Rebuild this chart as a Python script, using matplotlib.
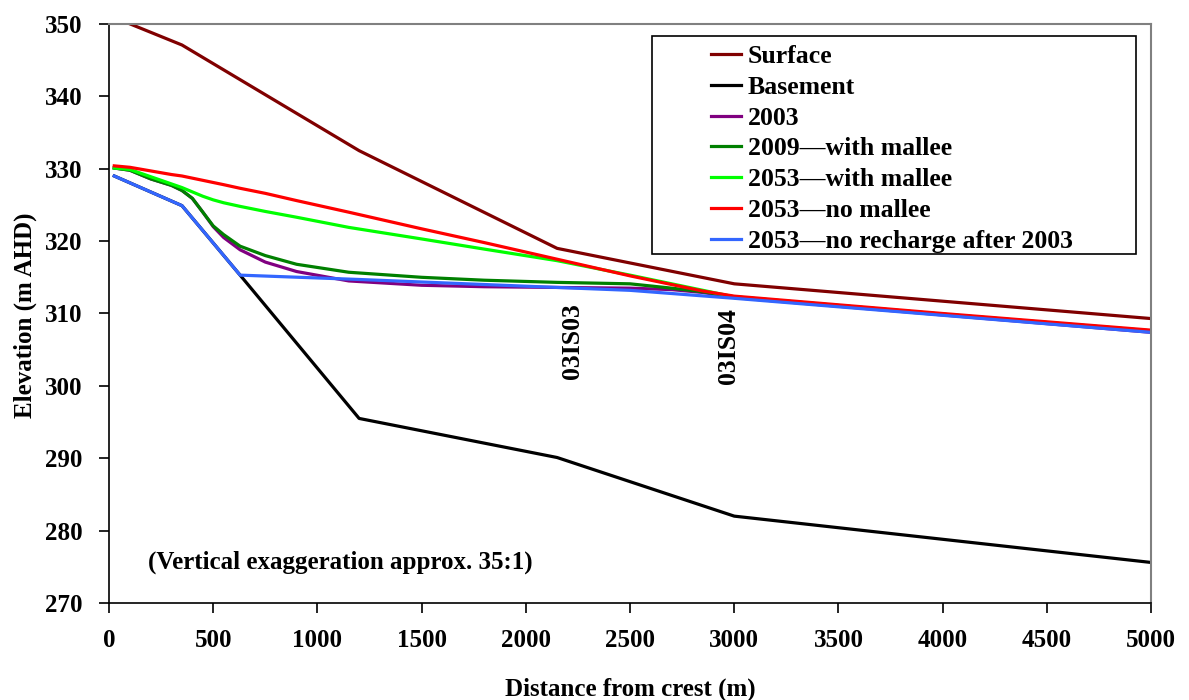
import matplotlib.pyplot as plt
from matplotlib.patches import Rectangle

plt.rcParams['font.family'] = ['Liberation Serif', 'DejaVu Serif']
plt.rcParams['font.weight'] = 'bold'

# Surface and basement profiles (m AHD)
surface_x = [25, 350, 1200, 2150, 3000, 5000]
surface_y = [350.9, 347.1, 332.5, 319.0, 314.1, 309.3]

basement_x = [25, 350, 629, 1200, 2150, 3000, 5000]
basement_y = [329.0, 324.9, 315.3, 295.5, 290.1, 282.0, 275.6]

# Water table profiles
wt_x = [25, 100, 200, 300, 350, 400, 450, 500, 550, 629, 750, 900,
        1150, 1500, 1800, 2150, 2500, 2700, 2850, 3000, 4000, 5000]
wt_2003 = [330.1, 329.8, 328.6, 327.7, 327.0, 325.9, 324.0, 322.0, 320.5, 318.8,
           317.1, 315.8, 314.5, 313.9, 313.7, 313.6, 313.5, 313.3, 312.9, 312.2,
           309.8, 307.4]
wt_2009 = [330.1, 329.8, 328.6, 327.7, 327.0, 325.9, 324.0, 322.1, 320.9, 319.3,
           318.0, 316.8, 315.7, 315.0, 314.6, 314.3, 314.1, 313.5, 313.0, 312.3,
           309.9, 307.6]
wt_2053_mallee = [330.1, 329.9, 328.9, 327.9, 327.4, 326.8, 326.2, 325.7, 325.3,
                  324.8, 324.1, 323.3, 321.9, 320.3, 318.9, 317.3, 315.3, 314.1,
                  313.2, 312.3, 309.9, 307.6]
wt_2053_no_mallee = [330.4, 330.2, 329.7, 329.2, 329.0, 328.7, 328.4, 328.1, 327.8,
                     327.3, 326.6, 325.6, 324.0, 321.7, 319.8, 317.5, 315.2, 314.0,
                     313.1, 312.4, 310.0, 307.7]

no_recharge_x = [25, 350, 629, 1200, 2150, 2500, 3000, 5000]
no_recharge_y = [329.0, 324.9, 315.3, 314.7, 313.6, 313.2, 312.1, 307.4]

bore_names = ['03IS03', '03IS04']
bore_x = [2222, 2970]
bore_top = [311.4, 310.8]

fig = plt.figure(figsize=(11.89, 7.0), dpi=100)
ax = fig.add_axes([0.0917, 0.1386, 0.8764, 0.8271])

lw = 2.3
ax.plot(surface_x, surface_y, color='#800000', lw=lw, label='Surface')
ax.plot(basement_x, basement_y, color='black', lw=lw, label='Basement')
ax.plot(wt_x, wt_2003, color='#800080', lw=lw, label='2003')
ax.plot(wt_x, wt_2009, color='#008000', lw=lw, label='2009\u2014with mallee')
ax.plot(wt_x, wt_2053_mallee, color='#00FF00', lw=lw, label='2053\u2014with mallee')
ax.plot(wt_x, wt_2053_no_mallee, color='#FF0000', lw=lw, label='2053\u2014no mallee')
ax.plot(no_recharge_x, no_recharge_y, color='#3366FF', lw=lw,
        label='2053\u2014no recharge after 2003')

ax.set_xlim(0, 5000)
ax.set_ylim(270, 350)
ax.set_xticks(range(0, 5001, 500))
ax.set_yticks(range(270, 351, 10))

for s in ['top', 'right']:
    ax.spines[s].set_color('#808080')
    ax.spines[s].set_linewidth(1.5)
for s in ['left', 'bottom']:
    ax.spines[s].set_linewidth(1.2)

ax.tick_params(axis='x', direction='out', length=7, width=1.2, pad=12, labelsize=18)
ax.tick_params(axis='y', direction='out', length=7, width=1.2, pad=12, labelsize=18)

ax.set_xlabel('Distance from crest (m)', fontsize=18, fontweight='bold')
ax.set_ylabel('Elevation (m AHD)', fontsize=18, fontweight='bold')
ax.xaxis.set_label_coords(0.5, -0.128)
ax.yaxis.set_label_coords(-0.069, 0.497)

for name, bx, by in zip(bore_names, bore_x, bore_top):
    ax.text(bx, by, name, rotation=90, ha='center', va='top', fontsize=18.5,
            fontweight='bold')

ax.text(187, 275.6, '(Vertical exaggeration approx. 35:1)', ha='left', va='center',
        fontsize=18, fontweight='bold')

# legend box drawn separately so it can be wider than its contents
ax.add_patch(Rectangle((0.521, 0.602), 0.465, 0.377, transform=ax.transAxes,
                       facecolor='white', edgecolor='black', lw=1.2, zorder=4))
leg = ax.legend(loc='upper left', bbox_to_anchor=(0.5675, 0.981), frameon=False,
                fontsize=18.5, handlelength=1.2, handletextpad=0.25,
                labelspacing=0.30, borderaxespad=0)
leg.set_zorder(5)

fig.savefig('out.png', dpi=100)
